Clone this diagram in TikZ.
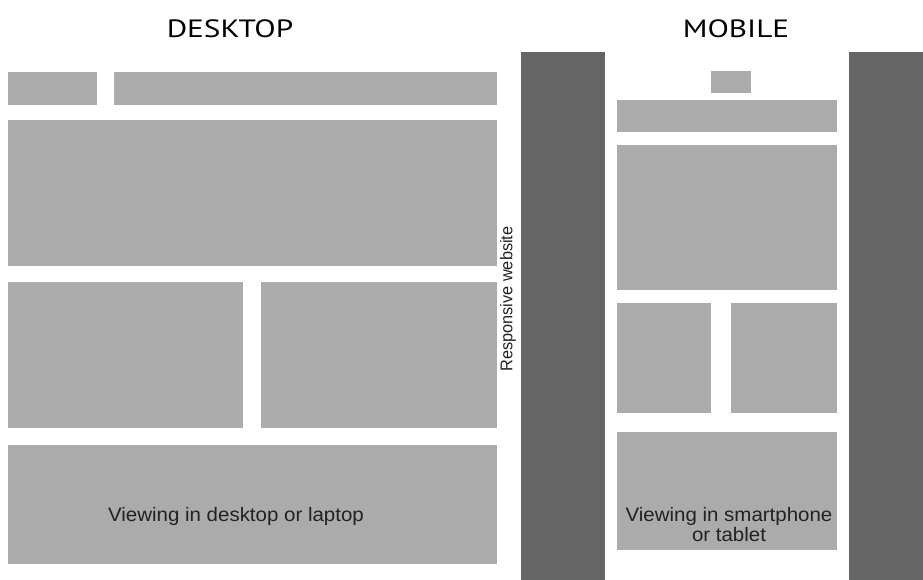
\documentclass[tikz,border=0pt]{standalone}
\usepackage{fontspec}
\setmainfont{Liberation Sans}
\newfontfamily\titlefont{PT Sans}
\definecolor{lightbox}{HTML}{ABABAB}
\definecolor{darkbar}{HTML}{656565}
\definecolor{txt}{HTML}{222222}
\begin{document}
\begin{tikzpicture}[x=1pt,y=-1pt,
  lbox/.style={fill=lightbox,draw=none,inner sep=0pt,outer sep=0pt,anchor=north west},
  dbar/.style={fill=darkbar,draw=none,inner sep=0pt,outer sep=0pt,anchor=north west},
  ttl/.style={font=\titlefont\fontsize{25}{28}\selectfont,text=black,inner sep=0pt},
  lbl/.style={font=\fontsize{19.5}{20}\selectfont,text=txt,inner sep=0pt,align=center}]
\useasboundingbox[fill=white] (0,0) rectangle (923,580);
% titles
\node[ttl] (tdesk) at (230,29) {\scalebox{1.25}[1]{DESKTOP}};
\node[ttl] (tmob) at (736,29) {\scalebox{1.25}[1]{MOBILE}};
% desktop
\node[lbox,minimum width=89pt,minimum height=33pt] (d1) at (8,72) {};
\node[lbox,minimum width=383pt,minimum height=33pt] (d2) at (114,72) {};
\node[lbox,minimum width=489pt,minimum height=146pt] (d3) at (8,120) {};
\node[lbox,minimum width=235pt,minimum height=146pt] (d4) at (8,282) {};
\node[lbox,minimum width=236pt,minimum height=146pt] (d5) at (261,282) {};
\node[lbox,minimum width=489pt,minimum height=119pt] (d6) at (8,445) {};
\node[lbl] (dtext) at (236,516) {\scalebox{1.05}[1]{Viewing in desktop or laptop}};
% bars
\node[dbar,minimum width=84pt,minimum height=528pt] (bar1) at (521,52) {};
\node[dbar,minimum width=74pt,minimum height=528pt] (bar2) at (849,52) {};
\node[lbl,rotate=90,font=\fontsize{17}{18}\selectfont] (resp) at (508,299) {\scalebox{0.96}[1]{Responsive website}};
% mobile
\node[lbox,minimum width=40pt,minimum height=22pt] (m0) at (711,71) {};
\node[lbox,minimum width=220pt,minimum height=32pt] (m1) at (617,100) {};
\node[lbox,minimum width=220pt,minimum height=145pt] (m2) at (617,145) {};
\node[lbox,minimum width=94pt,minimum height=110pt] (m3) at (617,303) {};
\node[lbox,minimum width=106pt,minimum height=110pt] (m4) at (731,303) {};
\node[lbox,minimum width=220pt,minimum height=118pt] (m5) at (617,432) {};
\node[lbl] (mtext) at (729,525) {\scalebox{1.05}[1]{Viewing in smartphone}\\\scalebox{1.05}[1]{or tablet}};
\end{tikzpicture}
\end{document}
